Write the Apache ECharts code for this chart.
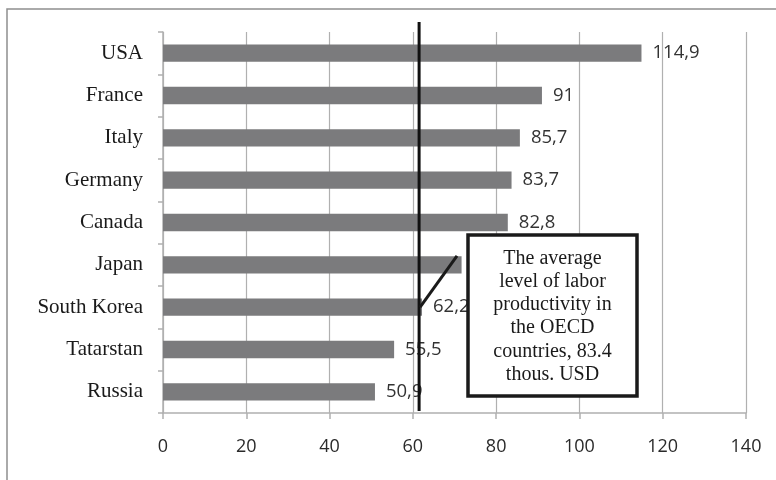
<!DOCTYPE html>
<html>
<head>
<meta charset="utf-8">
<script src="https://cdn.jsdelivr.net/npm/echarts@6/dist/echarts.min.js"></script>
<style>
  html, body { margin: 0; padding: 0; background: #ffffff; }
  #chart { width: 776px; height: 480px; }
</style>
</head>
<body>
<div id="chart"></div>
<script>
// Labor productivity, thousand USD per worker
const countries = ['USA', 'France', 'Italy', 'Germany', 'Canada', 'Japan', 'South Korea', 'Tatarstan', 'Russia'];
const productivity = [114.9, 91, 85.7, 83.7, 82.8, 71.7, 62.2, 55.5, 50.9];
const axisTicks = [0, 20, 40, 60, 80, 100, 120, 140];
// Reference line position and the note attached to it
const referenceValue = 61.5;
const noteLines = ['The average', 'level of labor', 'productivity in', 'the OECD', 'countries, 83.4', 'thous. USD'];

const chart = echarts.init(document.getElementById('chart'), null, { renderer: 'canvas' });

const gridLeft = 163, gridTop = 32, gridRight = 30, gridBottom = 67;

chart.setOption({
  backgroundColor: '#ffffff',
  animation: false,
  grid: { left: gridLeft, right: gridRight, top: gridTop, bottom: gridBottom, containLabel: false },
  xAxis: {
    type: 'value',
    min: axisTicks[0],
    max: axisTicks[axisTicks.length - 1],
    interval: axisTicks[1] - axisTicks[0],
    axisLine: { show: true, lineStyle: { color: '#b0b0b0', width: 1.5 } },
    axisTick: { show: true, length: 6, lineStyle: { color: '#b0b0b0', width: 1.5 } },
    splitLine: { show: true, lineStyle: { color: '#b0b0b0', width: 1.2 } },
    axisLabel: { margin: 25, color: '#2a2a2a', fontFamily: 'Open Sans', fontSize: 18 }
  },
  yAxis: {
    type: 'category',
    data: countries,
    inverse: true,
    axisLine: { show: true, lineStyle: { color: '#b0b0b0', width: 1.5 } },
    axisTick: { show: true, length: 5, lineStyle: { color: '#b0b0b0', width: 1.5 } },
    axisLabel: { margin: 20, color: '#1a1a1a', fontFamily: 'Liberation Serif', fontSize: 21 }
  },
  series: [{
    type: 'bar',
    data: productivity,
    barCategoryGap: '59%',
    itemStyle: { color: '#7b7b7d' },
    label: {
      show: true,
      position: 'right',
      distance: 11,
      color: '#333333',
      fontFamily: 'Open Sans',
      fontSize: 18.5,
      formatter: p => String(p.value).replace('.', ',')
    },
    z: 2
  }]
});

// Annotation: vertical reference line, leader line and framed note
const topPt = chart.convertToPixel({ gridIndex: 0 }, [referenceValue, 0]);
const lineX = topPt[0];
const koreaY = chart.convertToPixel({ yAxisIndex: 0 }, 'South Korea');
const japanY = chart.convertToPixel({ yAxisIndex: 0 }, 'Japan');
const leaderEndX = chart.convertToPixel({ xAxisIndex: 0 }, 70.6);

const boxX = 468, boxY = 235, boxW = 169, boxH = 161;

chart.setOption({
  graphic: [
    {
      type: 'rect',
      silent: true,
      shape: { x: 7, y: 9, width: 820, height: 520 },
      style: { fill: 'none', stroke: '#8f8f8f', lineWidth: 1.5 },
      z: 0
    },
    {
      type: 'line',
      silent: true,
      shape: { x1: lineX, y1: 22, x2: lineX, y2: 411 },
      style: { stroke: '#111111', lineWidth: 3 },
      z: 50
    },
    {
      type: 'line',
      silent: true,
      shape: { x1: lineX + 1, y1: koreaY, x2: leaderEndX, y2: japanY - 9 },
      style: { stroke: '#1a1a1a', lineWidth: 3 },
      z: 50
    },
    {
      type: 'rect',
      silent: true,
      shape: { x: boxX, y: boxY, width: boxW, height: boxH },
      style: { fill: '#ffffff', stroke: '#1a1a1a', lineWidth: 3.5 },
      z: 60
    },
    {
      type: 'text',
      silent: true,
      x: boxX + boxW / 2,
      y: boxY + boxH / 2 + 1,
      style: {
        text: noteLines.join('\n'),
        fill: '#1a1a1a',
        font: '20px "Liberation Serif"',
        lineHeight: 23.3,
        align: 'center',
        verticalAlign: 'middle'
      },
      z: 61
    }
  ]
});
</script>
</body>
</html>
